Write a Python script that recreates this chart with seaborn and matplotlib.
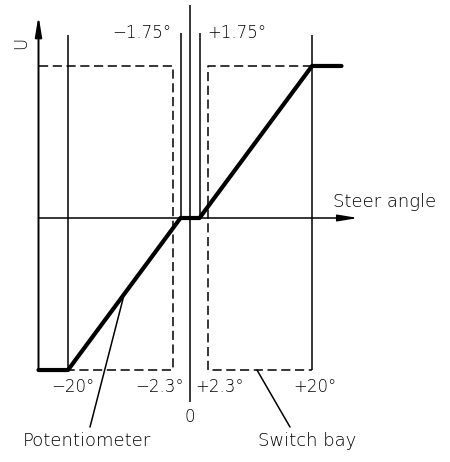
import numpy as np
import matplotlib
matplotlib.use("Agg")
import matplotlib.pyplot as plt
import seaborn as sns

# steering characteristic: potentiometer output U vs steer angle (deg)
steer_deg = [-25, -20, -1.75, 1.75, 20, 25]
output_u = [-1, -1, 0, 0, 1, 1]

limit_deg = [-20, 20]        # end stops
dead_deg = [-1.75, 1.75]     # dead band
bay_deg = [-2.3, 2.3]        # switch bay inner edges

tick_labels = {-20: "\u221220\u00b0", -2.3: "\u22122.3\u00b0", 2.3: "+2.3\u00b0", 20: "+20\u00b0"}
top_labels = {-1.75: "\u22121.75\u00b0", 1.75: "+1.75\u00b0"}

# schematic (not to scale) angle axis
knots_deg = np.array([-60, -20, -2.3, -1.75, 0, 1.75, 2.3, 20, 60])
knots_u = np.array([-358, -122, -17.5, -9.5, 0, 9.5, 17.5, 122, 358])
fwd = lambda x: np.interp(x, knots_deg, knots_u)
inv = lambda u: np.interp(u, knots_u, knots_deg)

sns.set_style("white")
plt.rcParams['font.family'] = ['DejaVu Sans']

fig = plt.figure(figsize=(4.5, 4.62), dpi=100)
ax = fig.add_axes([0, 0, 1, 1])
ax.set_xscale('function', functions=(fwd, inv))
ax.set_xlim(inv(-190), inv(260))
ax.set_ylim(-1.605, 1.434)
ax.axis('off')

thin = 1.1
dash = dict(color='black', lw=thin, dashes=(6, 3))

# axes with arrows
arr = dict(arrowstyle='-|>,head_length=1.2,head_width=0.2', lw=1.4, color='black',
           shrinkA=0, shrinkB=0, mutation_scale=10)
ax.annotate('', xy=(-25, 1.33), xytext=(-25, -1), arrowprops=arr)
ax.annotate('', xy=(27.8, 0), xytext=(-25, 0), arrowprops=dict(arr, lw=thin))

# reference lines
ax.vlines(limit_deg, -1, 1.204, color='black', lw=thin)
ax.vlines(dead_deg, 0, 1.217, color='black', lw=thin)
ax.vlines(0, -1.21, 1.40, color='black', lw=thin)

# switch bays (dashed)
ax.plot([-25, bay_deg[0], bay_deg[0], limit_deg[0]], [1, 1, -1, -1], **dash)
ax.plot([limit_deg[1], bay_deg[1], bay_deg[1], limit_deg[1]], [1, 1, -1, -1], **dash)

# potentiometer characteristic
sns.lineplot(x=steer_deg, y=output_u, sort=False, estimator=None, color='black',
             lw=3.0, ax=ax)

txt = dict(fontsize=12, color='black', fontweight='light')
wtxt = dict(txt, fontsize=13)
offsets = {-20: 5, -2.3: -13, 2.3: 12, 20: 3}
for a, lab in tick_labels.items():
    ax.annotate(lab, xy=(a, -1), xytext=(offsets[a], -17), textcoords='offset pixels',
                ha='center', va='center', **txt)
ax.annotate("0", xy=(0, -1), xytext=(0, -47), textcoords='offset pixels',
            ha='center', va='center', **txt)
top_off = {-1.75: -39, 1.75: 37}
for a, lab in top_labels.items():
    ax.annotate(lab, xy=(a, 1.217), xytext=(top_off[a], 0), textcoords='offset pixels',
                ha='center', va='center', **txt)

ax.annotate("Steer angle", xy=(20, 0), xytext=(21, 16), textcoords='offset pixels',
            ha='left', va='center', **wtxt)
ax.annotate("U", xy=(-25, 1.15), xytext=(-17, 0), textcoords='offset pixels',
            ha='center', va='center', rotation=90, **txt)

# callouts
x_pot = inv((fwd(-20) + fwd(-1.75)) / 2)
ax.plot([x_pot, inv(-100)], [-0.5, -1.375], color='black', lw=thin)
ax.text(inv(-103), -1.47, "Potentiometer", ha='center', va='center', **wtxt)
ax.plot([inv(67), inv(100)], [-1, -1.375], color='black', lw=thin)
ax.text(inv(117), -1.47, "Switch bay", ha='center', va='center', **wtxt)

fig.savefig("out.png", dpi=100)
